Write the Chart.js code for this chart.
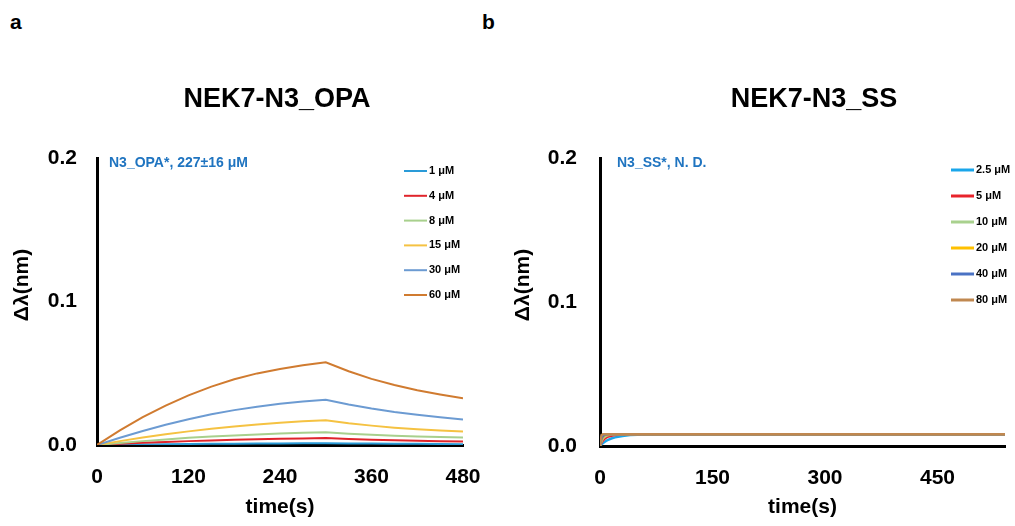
<!DOCTYPE html>
<html>
<head>
<meta charset="utf-8">
<title>NEK7 binding</title>
<script src="https://cdn.jsdelivr.net/npm/chart.js@4.4.1/dist/chart.umd.min.js"></script>
<style>
  body { margin: 0; background: #fff; font-family: 'Liberation Sans', Arial, sans-serif; }
  #wrap { position: relative; width: 1015px; height: 526px; overflow: hidden; }
  .panel { position: absolute; top: 0; height: 526px; }
  .tag { position: absolute; top: 11px; font-weight: bold; font-size: 21px; line-height: 1; }
</style>
</head>
<body>
<div id="wrap">
  <div class="tag" style="left:10px">a</div>
  <div class="tag" style="left:482px">b</div>
  <div class="panel" style="left:0;width:507px"><canvas id="chartA"></canvas></div>
  <div class="panel" style="left:507px;width:508px"><canvas id="chartB"></canvas></div>
</div>
<script>
// Panel a: NEK7-N3_OPA, association 0-300 s, dissociation 300-480 s
const timeA = [0, 30, 60, 90, 120, 150, 180, 210, 240, 270, 300, 330, 360, 390, 420, 450, 480];
const opa1 = [0, 0.0002, 0.0004, 0.0006, 0.0007, 0.0008, 0.0009, 0.0010, 0.0011, 0.0012, 0.0012, 0.0011, 0.0010, 0.0009, 0.0008, 0.0007, 0.0006];
const opa4 = [0, 0.0008, 0.0015, 0.0021, 0.0027, 0.0032, 0.0036, 0.0040, 0.0043, 0.0046, 0.0048, 0.0042, 0.0037, 0.0033, 0.0030, 0.0027, 0.0025];
const opa8 = [0, 0.0014, 0.0027, 0.0039, 0.0050, 0.0059, 0.0067, 0.0074, 0.0080, 0.0085, 0.0089, 0.0079, 0.0071, 0.0064, 0.0059, 0.0055, 0.0052];
const opa15 = [0, 0.0027, 0.0052, 0.0075, 0.0095, 0.0113, 0.0129, 0.0143, 0.0155, 0.0165, 0.0173, 0.0152, 0.0135, 0.0121, 0.0110, 0.0101, 0.0094];
const opa30 = [0, 0.0051, 0.0098, 0.0141, 0.0180, 0.0214, 0.0243, 0.0267, 0.0287, 0.0303, 0.0316, 0.0282, 0.0254, 0.0230, 0.0210, 0.0193, 0.0177];
const opa60 = [0, 0.0102, 0.0194, 0.0275, 0.0346, 0.0407, 0.0458, 0.0499, 0.0530, 0.0555, 0.0577, 0.0514, 0.0461, 0.0418, 0.0382, 0.0352, 0.0325];
const labelsA = ['1 μM', '4 μM', '8 μM', '15 μM', '30 μM', '60 μM'];
const ticksXA = [0, 120, 240, 360, 480];

// Panel b: NEK7-N3_SS, fast jump to a flat plateau
const timeB = [0, 2, 4, 6, 8, 10, 15, 20, 30, 40, 60, 80, 540];
const ss2_5 = [0, 0.0011, 0.0020, 0.0028, 0.0035, 0.0041, 0.0052, 0.0060, 0.0070, 0.0076, 0.0080, 0.0082, 0.0082];
const ss5 = [0, 0.0023, 0.0039, 0.0050, 0.0058, 0.0063, 0.0071, 0.0076, 0.0080, 0.0081, 0.0082, 0.0082, 0.0082];
const ss10 = [0, 0.0033, 0.0052, 0.0063, 0.0070, 0.0074, 0.0079, 0.0081, 0.0082, 0.0082, 0.0082, 0.0082, 0.0082];
const ss20 = [0, 0.0043, 0.0062, 0.0072, 0.0077, 0.0080, 0.0082, 0.0082, 0.0082, 0.0082, 0.0082, 0.0082, 0.0082];
const ss40 = [0, 0.0052, 0.0070, 0.0077, 0.0080, 0.0081, 0.0082, 0.0082, 0.0082, 0.0082, 0.0082, 0.0082, 0.0082];
const ss80 = [0, 0.0075, 0.0081, 0.0082, 0.0082, 0.0082, 0.0082, 0.0082, 0.0082, 0.0082, 0.0082, 0.0082, 0.0082];
const labelsB = ['2.5 μM', '5 μM', '10 μM', '20 μM', '40 μM', '80 μM'];
const ticksXB = [0, 150, 300, 450];

const ticksY = [0, 0.1, 0.2];

const FONT = "'Liberation Sans', Arial, sans-serif";
Chart.defaults.font.family = FONT;
Chart.defaults.color = '#000';

const colorsA = ['#2a9bd8', '#e0242b', '#a8d08d', '#f5c242', '#6c9bd2', '#d07b30'];
const colorsB = ['#1aa6ea', '#e8232b', '#a9d18e', '#ffc000', '#4a72c4', '#c08850'];

function points(xs, ys) {
  return xs.map((x, i) => ({ x: x, y: ys[i] }));
}

// panel title, y-axis title, note and the small legend, placed like the original figure
const panelText = {
  id: 'panelText',
  afterDatasetsDraw(chart, args, opts) {
    const ctx = chart.ctx;
    ctx.save();
    ctx.textBaseline = 'middle';

    ctx.fillStyle = '#000';
    ctx.textAlign = 'center';
    ctx.font = 'bold 27px ' + FONT;
    ctx.fillText(opts.title, opts.titleX, opts.titleY);

    ctx.save();
    ctx.translate(opts.yTitleX, opts.yTitleY);
    ctx.rotate(-Math.PI / 2);
    ctx.font = 'bold 21px ' + FONT;
    ctx.fillText('Δλ(nm)', 0, 0);
    ctx.restore();

    ctx.textAlign = 'left';
    ctx.fillStyle = '#1f74c0';
    ctx.font = 'bold 14px ' + FONT;
    ctx.fillText(opts.note, opts.noteX, opts.noteY);

    ctx.font = 'bold 11px ' + FONT;
    chart.data.datasets.forEach((ds, i) => {
      const y = opts.y + i * opts.step;
      ctx.strokeStyle = ds.borderColor;
      ctx.lineWidth = opts.lineWidth;
      ctx.beginPath();
      ctx.moveTo(opts.x, y);
      ctx.lineTo(opts.x + opts.len, y);
      ctx.stroke();
      ctx.fillStyle = '#000';
      ctx.fillText(ds.label, opts.x + opts.len + 2, y);
    });
    ctx.restore();
  }
};

function makeChart(id, cfg) {
  const n = cfg.series.length;
  const datasets = cfg.series.map((s, i) => ({
    label: cfg.labels[i],
    data: points(cfg.times, s),
    borderColor: cfg.colors[i],
    borderWidth: cfg.lineWidth,
    pointRadius: 0,
    fill: false,
    tension: 0,
    order: n - i
  }));
  return new Chart(document.getElementById(id), {
    type: 'line',
    data: { datasets: datasets },
    plugins: [panelText],
    options: {
      responsive: true,
      maintainAspectRatio: false,
      animation: false,
      layout: { padding: { left: 0, right: cfg.padRight, top: 158, bottom: 0 } },
      plugins: {
        legend: { display: false },
        tooltip: { enabled: false },
        title: { display: false },
        panelText: cfg.text
      },
      scales: {
        x: {
          type: 'linear',
          min: 0,
          max: cfg.xMax,
          afterBuildTicks: (scale) => { scale.ticks = cfg.xTicks.map(v => ({ value: v })); },
          afterFit: (scale) => { scale.height = cfg.xHeight; },
          grid: { display: false, drawTicks: false },
          border: { display: true, color: '#000', width: 3 },
          ticks: { padding: 20, font: { size: 21, weight: 'bold' }, color: '#000', maxRotation: 0 },
          title: {
            display: true,
            text: 'time(s)',
            color: '#000',
            font: { size: 21, weight: 'bold' },
            padding: { top: 0, bottom: 6 }
          }
        },
        y: {
          min: 0,
          max: 0.2,
          afterBuildTicks: (scale) => { scale.ticks = ticksY.map(v => ({ value: v })); },
          afterFit: (scale) => { scale.width = cfg.yWidth; },
          grid: { display: false, drawTicks: false },
          border: { display: true, color: '#000', width: 3 },
          ticks: {
            padding: cfg.yPad,
            font: { size: 21, weight: 'bold' },
            color: '#000',
            callback: (v) => v.toFixed(1)
          }
        }
      }
    }
  });
}

makeChart('chartA', {
  times: timeA,
  series: [opa1, opa4, opa8, opa15, opa30, opa60],
  labels: labelsA,
  colors: colorsA,
  lineWidth: 2,
  xMax: 480,
  xTicks: ticksXA,
  xHeight: 81,
  padRight: 44,
  yWidth: 97,
  yPad: 20,
  text: {
    title: 'NEK7-N3_OPA', titleX: 277, titleY: 100,
    yTitleX: 22, yTitleY: 285,
    note: 'N3_OPA*, 227±16 μM', noteX: 109, noteY: 163,
    x: 404, y: 171, step: 24.8, len: 23, lineWidth: 2
  }
});

makeChart('chartB', {
  times: timeB,
  series: [ss2_5, ss5, ss10, ss20, ss40, ss80],
  labels: labelsB,
  colors: colorsB,
  lineWidth: 2.5,
  xMax: 540,
  xTicks: ticksXB,
  xHeight: 80,
  padRight: 10,
  yWidth: 93,
  yPad: 23,
  text: {
    title: 'NEK7-N3_SS', titleX: 307, titleY: 100,
    yTitleX: 16, yTitleY: 285,
    note: 'N3_SS*, N. D.', noteX: 110, noteY: 163,
    x: 444, y: 170, step: 26, len: 23, lineWidth: 3
  }
});
</script>
</body>
</html>
